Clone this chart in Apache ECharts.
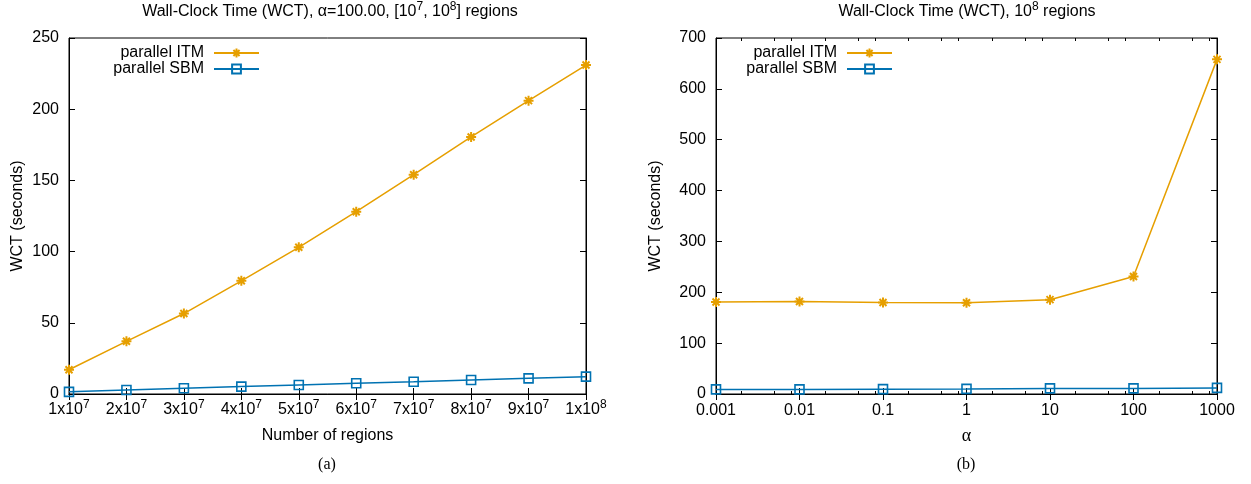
<!DOCTYPE html>
<html><head><meta charset="utf-8">
<script src="https://cdn.jsdelivr.net/npm/echarts@6/dist/echarts.min.js"></script>
<style>html,body{margin:0;padding:0;background:#fff}#c{width:1251px;height:484px}</style>
</head><body><div id="c"></div>
<script>
// ---- data ----
const regions = [1e7, 2e7, 3e7, 4e7, 5e7, 6e7, 7e7, 8e7, 9e7, 1e8];
const itmRegions = [17, 37, 56.5, 79.5, 103, 128, 154, 180.5, 206, 231];
const sbmRegions = [1.5, 2.8, 4, 5.2, 6.3, 7.5, 8.6, 9.8, 11, 12.2];
const alphas = [0.001, 0.01, 0.1, 1, 10, 100, 1000];
const itmAlpha = [181, 182, 180, 179.5, 185.5, 231, 658];
const sbmAlpha = [9, 9, 9.5, 10, 11, 11, 12];
const alphaMinorTicks = [0.002, 0.005, 0.008, 0.02, 0.05, 0.08, 0.2, 0.5, 0.8, 2, 5, 8, 20, 50, 80, 200, 500, 800];
const seriesNames = ['parallel ITM', 'parallel SBM'];
const titleA = 'Wall-Clock Time (WCT), α=100.00, [10{s|7}, 10{s|8}] regions';
const titleB = 'Wall-Clock Time (WCT), 10{s|8} regions';
const yNameA = 'WCT (seconds)';
const xNameA = 'Number of regions';
const xNameB = 'α';

// ---- styles ----
const SANS = 'Liberation Sans';
const SERIF = 'Liberation Serif';
const FS = 16;
const ORANGE = '#e69f00';
const BLUE = '#0072b2';
const ASTERISK = 'path://M0,5L10,5M5,0L5,10M1.5,1.5L8.5,8.5M8.5,1.5L1.5,8.5';
const yMaxA = 250, yMaxB = 700;

const black = '#000';
const axisLine = {show: true, lineStyle: {color: black, width: 1}};
const tickIn = {show: true, inside: true, length: 6, lineStyle: {color: black, width: 1}};
const noSplit = {show: false};
const labelTxt = {fontFamily: SANS, fontSize: FS, color: black};
const nameTxt = {fontFamily: SANS, fontSize: FS, color: black};

function supFmt(v) {
  const e = Math.floor(Math.log10(v) + 1e-9);
  const m = Math.round(v / Math.pow(10, e));
  return '{b|' + m + 'x10}{s|' + e + '}';
}
function logFmt(v) { return String(Number(v.toPrecision(6))); }

const supRich = {
  b: {fontFamily: SANS, fontSize: FS, lineHeight: 22, color: black},
  s: {fontFamily: SANS, fontSize: 12, lineHeight: 12, verticalAlign: 'top', color: black}
};
const titleStyle = {
  fontFamily: SANS, fontSize: FS, fontWeight: 'normal', color: black, lineHeight: 22,
  rich: {s: {fontFamily: SANS, fontSize: 12, lineHeight: 12, verticalAlign: 'top', color: black}}
};

const legendBase = {
  orient: 'vertical', align: 'right', itemWidth: 45, itemHeight: 11, itemGap: 0, padding: 0,
  selectedMode: false, data: seriesNames,
  textStyle: {fontFamily: SANS, fontSize: FS, color: black, lineHeight: 16, padding: [0, 5, 0, 0]}
};

function lineSeries(name, xi, xs, ys, isItm) {
  return {
    type: 'line', name: name, xAxisIndex: xi, yAxisIndex: xi,
    data: xs.map((x, i) => [x, ys[i]]),
    symbol: isItm ? ASTERISK : 'rect', symbolSize: isItm ? 10 : 9,
    lineStyle: {color: isItm ? ORANGE : BLUE, width: 1.5},
    itemStyle: isItm ? {color: ORANGE, borderColor: ORANGE, borderWidth: 2}
                     : {color: 'rgba(0,0,0,0)', borderColor: BLUE, borderWidth: 1.6},
    emphasis: {disabled: true}, animation: false, z: isItm ? 3 : 4
  };
}

const option = {
  backgroundColor: '#fff',
  animation: false,
  title: [
    {text: titleA, left: 330, top: 1, textAlign: 'center', padding: 0, textStyle: titleStyle},
    {text: titleB, left: 967, top: 1, textAlign: 'center', padding: 0, textStyle: titleStyle},
    {text: '(a)', left: 327, top: 457, textAlign: 'center', padding: 0,
     textStyle: {fontFamily: SERIF, fontSize: 16, fontWeight: 'normal', color: black}},
    {text: '(b)', left: 966, top: 457, textAlign: 'center', padding: 0,
     textStyle: {fontFamily: SERIF, fontSize: 16, fontWeight: 'normal', color: black}}
  ],
  legend: [
    Object.assign({}, legendBase, {right: 991, top: 45}),
    Object.assign({}, legendBase, {right: 358, top: 45})
  ],
  grid: [
    {left: 69, right: 665, top: 38, bottom: 90, show: true, borderColor: black, borderWidth: 1, outerBoundsMode: 'none'},
    {left: 716, right: 34, top: 38, bottom: 90, show: true, borderColor: black, borderWidth: 1, outerBoundsMode: 'none'}
  ],
  xAxis: [
    {gridIndex: 0, type: 'value', position: 'bottom', min: 1e7, max: 1e8, interval: 1e7,
     axisLine, axisTick: tickIn, splitLine: noSplit,
     axisLabel: {margin: 5, formatter: supFmt, rich: supRich},
     name: xNameA, nameLocation: 'middle', nameGap: 34, nameTextStyle: nameTxt},
    {gridIndex: 0, type: 'value', position: 'top', min: 1e7, max: 1e8, interval: 1e7,
     axisLine, axisTick: tickIn, splitLine: noSplit, axisLabel: {show: false}},
    {gridIndex: 1, type: 'log', logBase: 10, position: 'bottom', min: 0.001, max: 1000, splitNumber: 6,
     axisLine, axisTick: tickIn, splitLine: noSplit,
     axisLabel: Object.assign({margin: 9, formatter: logFmt}, labelTxt),
     name: xNameB, nameLocation: 'middle', nameGap: 33,
     nameTextStyle: {fontFamily: SERIF, fontSize: 18, color: black}},
    {gridIndex: 1, type: 'log', logBase: 10, position: 'top', min: 0.001, max: 1000, splitNumber: 6,
     axisLine, axisTick: tickIn, splitLine: noSplit, axisLabel: {show: false}}
  ],
  yAxis: [
    {gridIndex: 0, type: 'value', position: 'left', min: 0, max: yMaxA, interval: 50,
     axisLine, axisTick: tickIn, splitLine: noSplit,
     axisLabel: Object.assign({margin: 10}, labelTxt),
     name: yNameA, nameLocation: 'middle', nameGap: 43, nameTextStyle: nameTxt},
    {gridIndex: 0, type: 'value', position: 'right', min: 0, max: yMaxA, interval: 50,
     axisLine, axisTick: tickIn, splitLine: noSplit, axisLabel: {show: false}},
    {gridIndex: 1, type: 'value', position: 'left', min: 0, max: yMaxB, interval: 100,
     axisLine, axisTick: tickIn, splitLine: noSplit,
     axisLabel: Object.assign({margin: 10}, labelTxt),
     name: yNameA, nameLocation: 'middle', nameGap: 52, nameTextStyle: nameTxt},
    {gridIndex: 1, type: 'value', position: 'right', min: 0, max: yMaxB, interval: 100,
     axisLine, axisTick: tickIn, splitLine: noSplit, axisLabel: {show: false}}
  ],
  series: [
    lineSeries(seriesNames[0], 0, regions, itmRegions, true),
    lineSeries(seriesNames[1], 0, regions, sbmRegions, false),
    lineSeries(seriesNames[0], 2, alphas, itmAlpha, true),
    lineSeries(seriesNames[1], 2, alphas, sbmAlpha, false),
    {
      type: 'custom', xAxisIndex: 2, yAxisIndex: 2, silent: true, z: 1,
      data: alphaMinorTicks.map(v => [v, 0]),
      encode: {x: 0, y: 1},
      renderItem: function (params, api) {
        const v = api.value(0);
        const b = api.coord([v, 0]);
        const t = api.coord([v, yMaxB]);
        const x = Math.round(b[0]) + 0.5;
        return {type: 'group', children: [
          {type: 'line', shape: {x1: x, y1: b[1], x2: x, y2: b[1] - 3}, style: {stroke: black, lineWidth: 1}},
          {type: 'line', shape: {x1: x, y1: t[1], x2: x, y2: t[1] + 3}, style: {stroke: black, lineWidth: 1}}
        ]};
      }
    }
  ]
};
const chart = echarts.init(document.getElementById('c'));
chart.setOption(option);
</script>
</body></html>
